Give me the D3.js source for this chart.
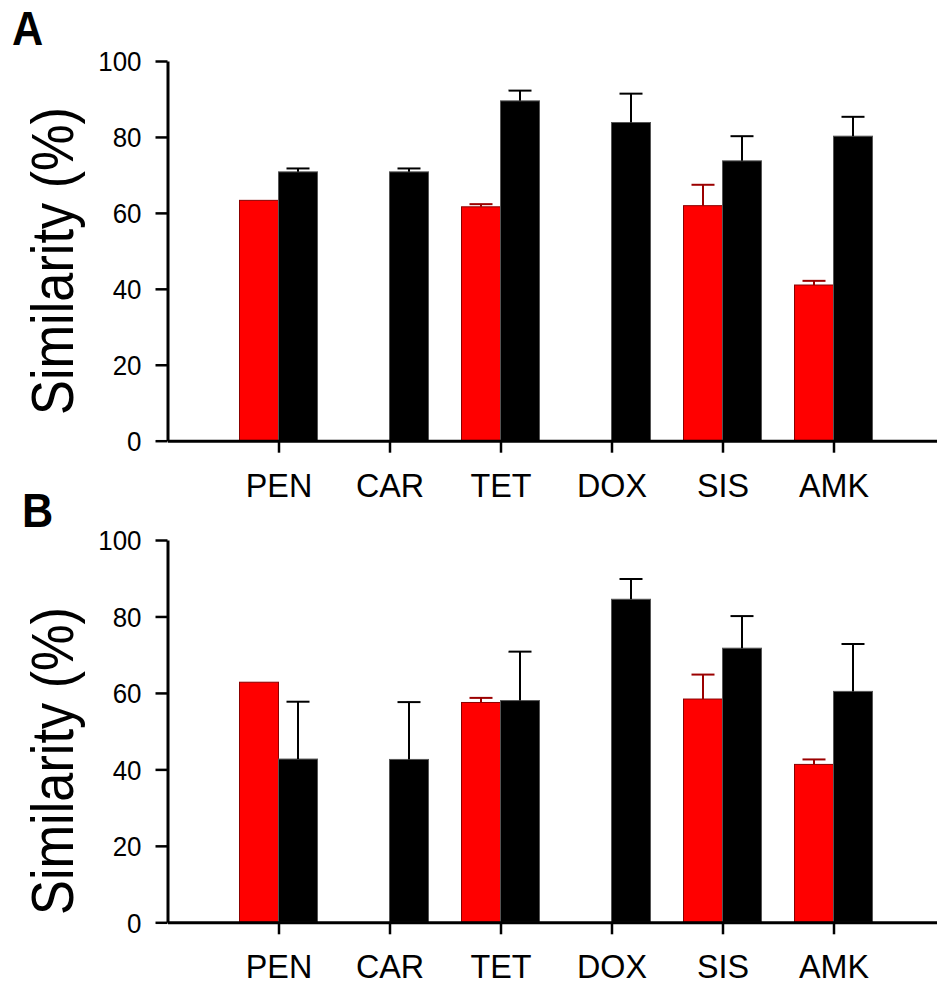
<!DOCTYPE html>
<meta charset="utf-8">
<style>

body {
  margin: 0;
  background: #fff;
}

text {
  font-family: "Liberation Sans", Arial, sans-serif;
  fill: #000;
}

.axis path,
.axis line {
  stroke: #000;
}

</style>
<script src="https://d3js.org/d3.v7.min.js"></script>
<body>
<script>

var categories = ["PEN", "CAR", "TET", "DOX", "SIS", "AMK"];
var yTicks = [0, 20, 40, 60, 80, 100];

// panel A
var aRed = [63.3, null, 61.6, null, 61.9, 41.0],
    aRedErr = [0, null, 0.7, null, 5.5, 1.1],
    aBlack = [70.8, 70.8, 89.5, 83.8, 73.7, 80.2],
    aBlackErr = [0.9, 0.9, 2.7, 7.6, 6.5, 5.1];

// panel B
var bRed = [62.8, null, 57.5, null, 58.4, 41.3],
    bRedErr = [0, null, 1.2, null, 6.4, 1.3],
    bBlack = [42.7, 42.6, 58.0, 84.5, 71.7, 60.4],
    bBlackErr = [15.0, 15.0, 12.8, 5.3, 8.4, 12.4];

var width = 937,
    height = 988,
    barWidth = 39,
    capWidth = 23;

var svg = d3.select("body").append("svg")
    .attr("width", width)
    .attr("height", height);

var x = d3.scaleLinear()
    .domain([0, 7])
    .range([167.5, 944.5]);

// glyphs in the original are a bit taller than wide
function narrow(sel, k) {
  sel.each(function() {
    var len = this.getComputedTextLength();
    d3.select(this)
        .attr("textLength", len * k)
        .attr("lengthAdjust", "spacingAndGlyphs");
  });
}

function panel(opts) {
  var y = d3.scaleLinear()
      .domain([0, 100])
      .range([opts.bottom, opts.top]);

  var g = svg.append("g");

  var rows = categories.map(function(c, i) {
    return {i: i + 1, red: opts.red[i], redErr: opts.redErr[i],
            black: opts.black[i], blackErr: opts.blackErr[i]};
  });

  // red bars, left of tick
  var reds = rows.filter(function(d) { return d.red != null; });
  g.selectAll(".red")
      .data(reds).enter()
      .append("rect")
      .attr("x", function(d) { return x(d.i) - barWidth; })
      .attr("y", function(d) { return y(d.red); })
      .attr("width", barWidth)
      .attr("height", function(d) { return y(0) - y(d.red); })
      .attr("fill", "#ff0000")
      .attr("stroke", "#8b0000")
      .attr("stroke-width", 1);

  // black bars, right of tick
  g.selectAll(".black")
      .data(rows).enter()
      .append("rect")
      .attr("x", function(d) { return x(d.i); })
      .attr("y", function(d) { return y(d.black); })
      .attr("width", barWidth)
      .attr("height", function(d) { return y(0) - y(d.black); })
      .attr("fill", "#000")
      .attr("stroke", "#555")
      .attr("stroke-width", 1);

  // error bars (upper only)
  var errs = [];
  reds.forEach(function(d) {
    if (d.redErr > 0) errs.push({cx: x(d.i) - barWidth / 2, v: d.red, e: d.redErr, c: "#9b0000"});
  });
  rows.forEach(function(d) {
    if (d.blackErr > 0) errs.push({cx: x(d.i) + barWidth / 2, v: d.black, e: d.blackErr, c: "#000"});
  });

  var eb = g.selectAll(".err")
      .data(errs).enter()
      .append("g")
      .attr("stroke", function(d) { return d.c; })
      .attr("stroke-width", 2);

  eb.append("line")
      .attr("x1", function(d) { return d.cx; })
      .attr("x2", function(d) { return d.cx; })
      .attr("y1", function(d) { return y(d.v); })
      .attr("y2", function(d) { return y(d.v + d.e); });

  eb.append("line")
      .attr("x1", function(d) { return d.cx - capWidth / 2; })
      .attr("x2", function(d) { return d.cx + capWidth / 2; })
      .attr("y1", function(d) { return y(d.v + d.e); })
      .attr("y2", function(d) { return y(d.v + d.e); });

  // axes
  var yAxis = g.append("g")
      .attr("class", "axis")
      .attr("transform", "translate(" + x(0) + ",0)")
      .call(d3.axisLeft(y).tickValues(yTicks).tickSize(12).tickSizeOuter(0).tickPadding(14));

  var xAxis = g.append("g")
      .attr("class", "axis")
      .attr("transform", "translate(0," + y(0) + ")")
      .call(d3.axisBottom(x)
        .tickValues(d3.range(1, categories.length + 1))
        .tickFormat(function(d) { return categories[d - 1]; })
        .tickSize(12).tickSizeOuter(0).tickPadding(20));

  [yAxis, xAxis].forEach(function(a) {
    a.select(".domain").attr("stroke-width", 3);
    a.selectAll(".tick line").attr("stroke-width", 2.5);
  });

  yAxis.selectAll(".tick text")
      .attr("font-size", 27)
      .attr("dy", "0.36em")
      .call(narrow, 0.96);

  xAxis.selectAll(".tick text")
      .attr("font-size", 34)
      .attr("dy", "0.71em")
      .call(narrow, 0.95);

  // y title
  g.append("text")
      .attr("transform", "translate(73," + opts.titleY + ") rotate(-90)")
      .attr("text-anchor", "middle")
      .attr("font-size", 60)
      .attr("textLength", 308)
      .attr("lengthAdjust", "spacingAndGlyphs")
      .text("Similarity (%)");

  // panel letter
  g.append("text")
      .attr("x", opts.letterX)
      .attr("y", opts.letterY)
      .attr("font-size", 48)
      .attr("font-weight", "bold")
      .text(opts.letter)
      .call(narrow, 0.9);
}

panel({letter: "A", letterX: 12, letterY: 45, top: 61, bottom: 440.7,
       titleY: 261, red: aRed, redErr: aRedErr, black: aBlack, blackErr: aBlackErr});

panel({letter: "B", letterX: 22, letterY: 527, top: 540, bottom: 922.3,
       titleY: 761, red: bRed, redErr: bRedErr, black: bBlack, blackErr: bBlackErr});

</script>
